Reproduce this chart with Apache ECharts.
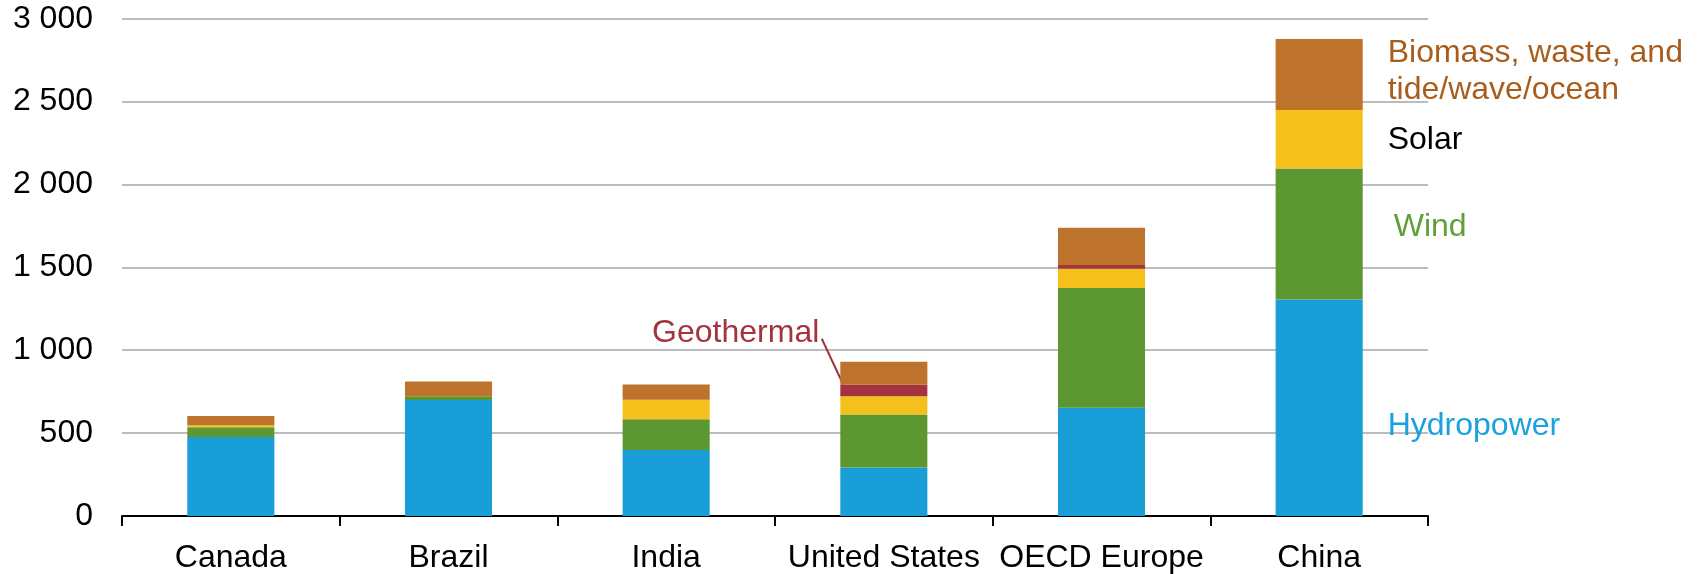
<!DOCTYPE html>
<html>
<head>
<meta charset="utf-8">
<script src="https://cdn.jsdelivr.net/npm/echarts@6/dist/echarts.min.js"></script>
<style>
  html, body { margin: 0; padding: 0; background: #fff; }
  #chart { width: 1698px; height: 574px; }
</style>
</head>
<body>
<div id="chart"></div>
<script>
const categories = ['Canada', 'Brazil', 'India', 'United States', 'OECD Europe', 'China'];
const hydropower = [476, 700, 398, 292, 653, 1306];
const wind       = [60, 22, 185, 320, 722, 791];
const solar      = [12, 0, 119, 110, 117, 352];
const geothermal = [0, 0, 0, 70, 22, 0];
const biomass    = [55, 89, 91, 138, 225, 428];
const yTicks = [0, 500, 1000, 1500, 2000, 2500, 3000];

const seriesNames = ['Hydropower', 'Wind', 'Solar', 'Geothermal', 'Biomass, waste, and\ntide/wave/ocean'];
const barColors = ['#199ED8', '#5D9732', '#F5C01C', '#A33340', '#BD732B'];
const labelColors = ['#1BA1DD', '#5EA03A', '#000000', '#A3343F', '#A95D1C'];
const labelOffsets = [[0, 18], [6, -7], [0, 1], [0, 0], [0, -3]];
const seriesData = [hydropower, wind, solar, geothermal, biomass];
const FONT = '"Liberation Sans", Arial, sans-serif';

const chart = echarts.init(document.getElementById('chart'), null, { renderer: 'canvas' });
const lastIdx = categories.length - 1;

const series = seriesData.map((arr, si) => ({
  name: seriesNames[si],
  type: 'bar',
  stack: 'total',
  barWidth: '40%',
  itemStyle: { color: barColors[si] },
  emphasis: { disabled: true },
  data: arr.map((v, i) => {
    if (i === lastIdx && si !== 3) {
      return {
        value: v,
        label: {
          show: true,
          position: 'right',
          distance: 25,
          offset: labelOffsets[si],
          formatter: seriesNames[si],
          color: labelColors[si],
          fontFamily: FONT,
          fontSize: 32,
          lineHeight: 37,
          align: 'left'
        }
      };
    }
    return v;
  })
}));

chart.setOption({
  animation: false,
  backgroundColor: '#ffffff',
  grid: { left: 122, right: 270, top: 18.7, bottom: 55.7, containLabel: false },
  xAxis: {
    type: 'category',
    data: categories,
    axisLine: { lineStyle: { color: '#000', width: 2 } },
    axisTick: { show: true, interval: 0, length: 10, lineStyle: { color: '#000', width: 2 } },
    axisLabel: { interval: 0, color: '#000', fontFamily: FONT, fontSize: 32, margin: 26 }
  },
  yAxis: {
    type: 'value',
    min: yTicks[0],
    max: yTicks[yTicks.length - 1],
    interval: yTicks[1] - yTicks[0],
    axisLine: { show: false },
    axisTick: { show: false },
    splitLine: { lineStyle: { color: '#A6A6A6', width: 1.5 } },
    axisLabel: {
      color: '#000', fontFamily: FONT, fontSize: 32, margin: 29,
      formatter: v => String(v).replace(/\B(?=(\d{3})+(?!\d))/g, ' ')
    }
  },
  series: series
});

// Geothermal annotation anchored to the US geothermal segment
const usIdx = categories.indexOf('United States');
const geoTop = hydropower[usIdx] + wind[usIdx] + solar[usIdx] + geothermal[usIdx];
const p = chart.convertToPixel({ xAxisIndex: 0, yAxisIndex: 0 }, [usIdx, geoTop]);
const bandW = chart.convertToPixel({ xAxisIndex: 0 }, 1) - chart.convertToPixel({ xAxisIndex: 0 }, 0);
const barLeft = p[0] - bandW * 0.2;
chart.setOption({
  graphic: [
    {
      type: 'line',
      shape: { x1: barLeft - 18.5, y1: p[1] - 46, x2: barLeft + 3, y2: p[1] },
      style: { stroke: '#A3343F', lineWidth: 2 },
      silent: true
    },
    {
      type: 'text',
      x: barLeft - 21,
      y: p[1] - 52,
      style: {
        text: 'Geothermal',
        fill: '#A3343F',
        font: '32px ' + FONT,
        textAlign: 'right',
        textVerticalAlign: 'middle'
      },
      silent: true
    }
  ]
});
</script>
</body>
</html>
